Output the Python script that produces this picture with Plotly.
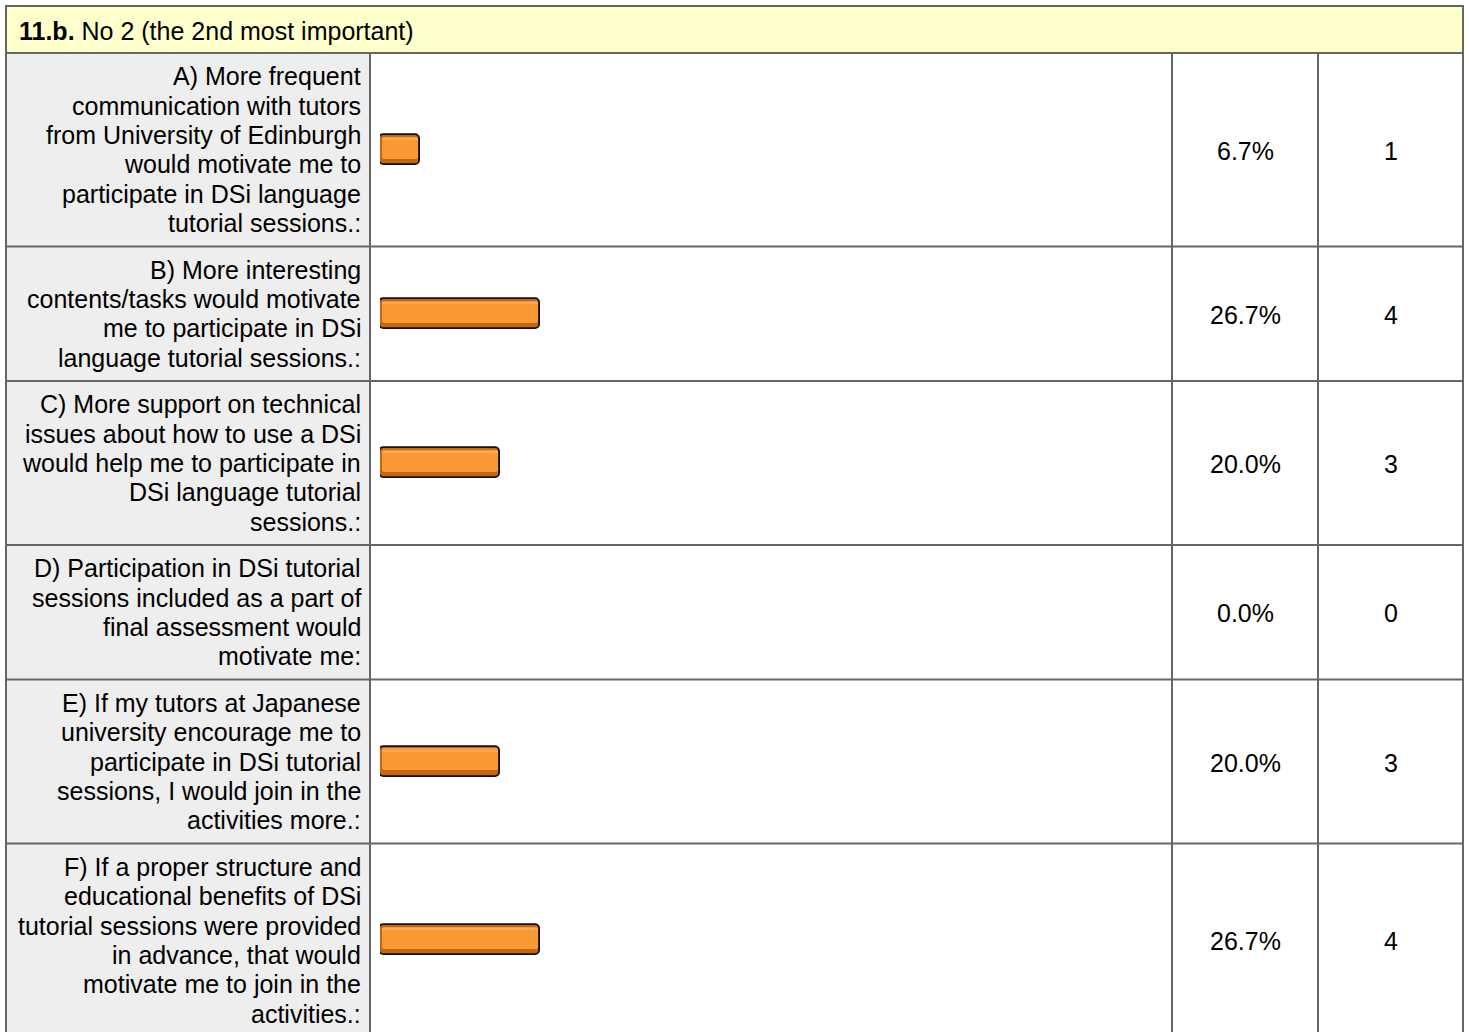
import plotly.graph_objects as go

# ---- survey data -------------------------------------------------------
question_no = "11.b."
question_text = "No 2 (the 2nd most important)"

option_lines = [
    ["A) More frequent", "communication with tutors", "from University of Edinburgh",
     "would motivate me to", "participate in DSi language", "tutorial sessions.:"],
    ["B) More interesting", "contents/tasks would motivate", "me to participate in DSi",
     "language tutorial sessions.:"],
    ["C) More support on technical", "issues about how to use a DSi",
     "would help me to participate in", "DSi language tutorial", "sessions.:"],
    ["D) Participation in DSi tutorial", "sessions included as a part of",
     "final assessment would", "motivate me:"],
    ["E) If my tutors at Japanese", "university encourage me to",
     "participate in DSi tutorial", "sessions, I would join in the", "activities more.:"],
    ["F) If a proper structure and", "educational benefits of DSi",
     "tutorial sessions were provided", "in advance, that would",
     "motivate me to join in the", "activities.:"],
]
percent = [6.7, 26.7, 20.0, 0.0, 20.0, 26.7]
count = [1, 4, 3, 0, 3, 4]

# ---- page geometry (pixels) --------------------------------------------
W, H = 1469, 1032
LEFT, RIGHT, TOP = 6, 1463, 6
HEAD_BOTTOM = 53
COL_LABEL, COL_BAR, COL_PCT = 370, 1172, 1318
BAR_X0, PX_PER_PCT = 380, 6.0
LINE_H, ROW_PAD = 29.4, 17
FONT = "Arial, Liberation Sans, sans-serif"
FS = 25
GRID = "#666666"

# row edges follow the number of text lines in each label cell
edges = [HEAD_BOTTOM]
for lines in option_lines:
    edges.append(edges[-1] + len(lines) * LINE_H + ROW_PAD)
centers = [(edges[i] + edges[i + 1]) / 2 for i in range(len(option_lines))]
bottom = edges[-1]

fig = go.Figure()

# bars: dark outlined body, then the lighter face inset on top of it
shown = [p if p > 0 else None for p in percent]
fig.add_trace(go.Bar(
    orientation="h", x=shown, y=centers, base=0, width=30, xaxis="x2", yaxis="y",
    marker=dict(color="#C4670F", line=dict(color="#111111", width=1.8), cornerradius=5),
    hoverinfo="skip", showlegend=False,
))
inset = 1.5 / PX_PER_PCT
face = [p - 2.4 * inset if p > 0 else None for p in percent]
fig.add_trace(go.Bar(
    orientation="h", x=face, y=[c - 2.2 for c in centers], base=inset, width=22,
    xaxis="x2", yaxis="y",
    marker=dict(color="#FA9833", line=dict(width=0), cornerradius=3),
    hoverinfo="skip", showlegend=False,
))
fig.add_trace(go.Bar(
    orientation="h", x=face, y=[c - 11 for c in centers], base=inset, width=2,
    xaxis="x2", yaxis="y",
    marker=dict(color="#FCA955", line=dict(width=0)),
    hoverinfo="skip", showlegend=False,
))

shapes = []
# cell backgrounds
shapes.append(dict(type="rect", xref="x", yref="y", x0=LEFT, x1=RIGHT, y0=TOP, y1=HEAD_BOTTOM,
                   fillcolor="#FFFFCC", line=dict(width=0), layer="below"))
shapes.append(dict(type="rect", xref="x", yref="y", x0=LEFT, x1=COL_LABEL, y0=HEAD_BOTTOM, y1=bottom,
                   fillcolor="#EEEEEE", line=dict(width=0), layer="below"))


def hline(y, x0=LEFT, x1=RIGHT):
    return dict(type="line", xref="x", yref="y", x0=x0, x1=x1, y0=y, y1=y,
                line=dict(color=GRID, width=2), layer="above")


def vline(x, y0, y1):
    return dict(type="line", xref="x", yref="y", x0=x, x1=x, y0=y0, y1=y1,
                line=dict(color=GRID, width=2), layer="above")


shapes.append(hline(TOP))
for e in edges:
    shapes.append(hline(e))
shapes.append(vline(LEFT, TOP - 1, bottom))
shapes.append(vline(RIGHT, TOP - 1, bottom))
for x in (COL_LABEL, COL_BAR, COL_PCT):
    shapes.append(vline(x, HEAD_BOTTOM, bottom))

annotations = [dict(
    xref="x", yref="y", x=17, y=(TOP + HEAD_BOTTOM) / 2 + 1,
    text=f"<b>{question_no}</b> {question_text}", showarrow=False,
    xanchor="left", yanchor="middle", font=dict(family=FONT, size=FS, color="#000000"),
)]
for lines, cy, p, n in zip(option_lines, centers, percent, count):
    k = len(lines)
    for i, line in enumerate(lines):
        annotations.append(dict(
            xref="x", yref="y", x=COL_LABEL - 7, y=cy + (i - (k - 1) / 2) * LINE_H,
            text=line, showarrow=False, xanchor="right", yanchor="middle",
            font=dict(family=FONT, size=FS, color="#000000"),
        ))
    annotations.append(dict(
        xref="x", yref="y", x=(COL_BAR + COL_PCT) / 2, y=cy + 1, text=f"{p:.1f}%",
        showarrow=False, xanchor="center", yanchor="middle",
        font=dict(family=FONT, size=FS, color="#000000"),
    ))
    annotations.append(dict(
        xref="x", yref="y", x=(COL_PCT + RIGHT) / 2, y=cy + 1, text=str(n),
        showarrow=False, xanchor="center", yanchor="middle",
        font=dict(family=FONT, size=FS, color="#000000"),
    ))

fig.update_layout(
    width=W, height=H, margin=dict(l=0, r=0, t=0, b=0),
    paper_bgcolor="white", plot_bgcolor="rgba(0,0,0,0)",
    barmode="overlay", bargap=0,
    xaxis=dict(domain=[0, 1], range=[0, W], visible=False, fixedrange=True),
    yaxis=dict(domain=[0, 1], range=[H, 0], visible=False, fixedrange=True),
    xaxis2=dict(domain=[BAR_X0 / W, (BAR_X0 + 100 * PX_PER_PCT) / W], range=[0, 100],
                anchor="y", visible=False, fixedrange=True),
    shapes=shapes, annotations=annotations,
)

fig.write_html("out.html", config={"displayModeBar": False})
